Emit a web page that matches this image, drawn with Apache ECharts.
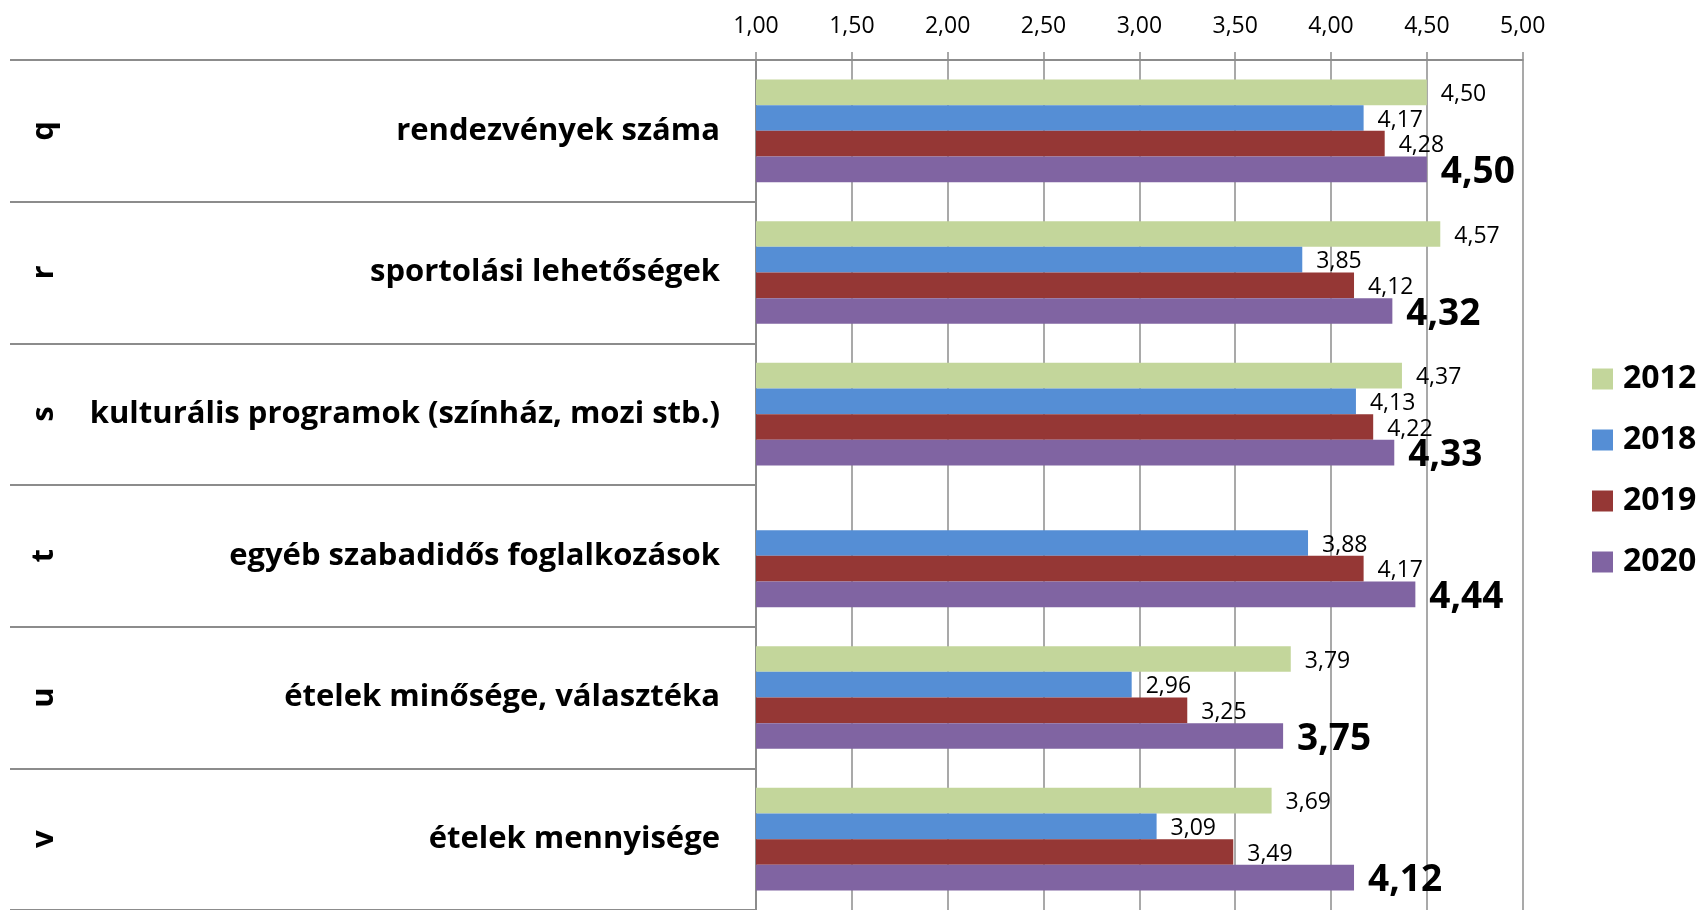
<!DOCTYPE html>
<html>
<head>
<meta charset="utf-8">
<script src="https://cdn.jsdelivr.net/npm/echarts@6/dist/echarts.min.js"></script>
<style>
	html, body { margin: 0; padding: 0; background: #fff; }
	#chart { width: 1702px; height: 910px; }
</style>
</head>
<body>
<div id="chart"></div>
<script>
let letters = ["q", "r", "s", "t", "u", "v"];
let categories = [
	"rendezvények száma",
	"sportolási lehetőségek",
	"kulturális programok (színház, mozi stb.)",
	"egyéb szabadidős foglalkozások",
	"ételek minősége, választéka",
	"ételek mennyisége",
];
let years = ["2012", "2018", "2019", "2020"];
let data2012 = [4.5, 4.57, 4.37, null, 3.79, 3.69];
let data2018 = [4.17, 3.85, 4.13, 3.88, 2.96, 3.09];
let data2019 = [4.28, 4.12, 4.22, 4.17, 3.25, 3.49];
let data2020 = [4.5, 4.32, 4.33, 4.44, 3.75, 4.12];
let axisTicks = [1, 1.5, 2, 2.5, 3, 3.5, 4, 4.5, 5];

let myChart = echarts.init(document.getElementById("chart"));
let font = "'Open Sans', 'DejaVu Sans', sans-serif";
let gray = "#8c8c8c";
let fmt = (v) => v.toFixed(2).replace(".", ",");

let smallLabel = {
	show: true,
	position: "right",
	distance: 14,
	offset: [0, 2],
	fontFamily: font,
	fontSize: 23,
	color: "#000",
	formatter: (p) => fmt(p.value),
};
let bigLabel = {
	show: true,
	position: "right",
	distance: 14,
	offset: [0, 3],
	fontFamily: font,
	fontSize: 37,
	fontWeight: "bold",
	color: "#000",
	formatter: (p) => fmt(p.value),
};

let seriesData = [data2012, data2018, data2019, data2020];
let series = years.map((y, i) => {
	return {
		name: y,
		type: "bar",
		barGap: 0,
		barCategoryGap: "27.5%",
		label: i === 3 ? bigLabel : smallLabel,
		data: seriesData[i],
	};
});

let option = {
	animation: false,
	color: ["#C3D69B", "#558ED5", "#953735", "#8064A2"],
	textStyle: { fontFamily: font },
	grid: {
		left: 756,
		top: 60,
		width: 766.7,
		height: 853.7,
	},
	legend: {
		orient: "vertical",
		left: 1587,
		top: 358,
		itemWidth: 21,
		itemHeight: 21,
		itemGap: 29,
		icon: "rect",
		textStyle: {
			fontFamily: font,
			fontSize: 32,
			fontWeight: "bold",
			color: "#000",
			padding: [0, 0, 0, 5],
		},
		data: years,
	},
	xAxis: {
		type: "value",
		position: "top",
		min: axisTicks[0],
		max: axisTicks[axisTicks.length - 1],
		interval: axisTicks[1] - axisTicks[0],
		axisLine: { show: true, lineStyle: { color: gray, width: 2 } },
		axisTick: { show: true, length: 8, lineStyle: { color: gray, width: 1.5 } },
		splitLine: { show: true, lineStyle: { color: gray, width: 1.5 } },
		axisLabel: {
			margin: 22,
			fontFamily: font,
			fontSize: 23,
			color: "#000",
			formatter: (v) => fmt(v),
		},
	},
	yAxis: [
		{
			type: "category",
			inverse: true,
			data: categories,
			axisLine: { show: true, lineStyle: { color: gray, width: 2 } },
			axisTick: { show: true, length: 746, interval: 0, lineStyle: { color: gray, width: 2 } },
			axisLabel: {
				interval: 0,
				margin: 36,
				padding: [8, 0, 0, 0],
				fontFamily: font,
				fontSize: 31,
				fontWeight: "bold",
				color: "#000",
			},
		},
		{
			type: "category",
			inverse: true,
			position: "left",
			offset: 696,
			data: letters,
			axisLine: { show: false },
			axisTick: { show: false },
			splitLine: { show: false },
			axisLabel: {
				interval: 0,
				margin: 0,
				rotate: 90,
				fontFamily: font,
				fontSize: 31,
				fontWeight: "bold",
				color: "#000",
			},
		},
	],
	series: series,
};

myChart.setOption(option);
</script>
</body>
</html>
